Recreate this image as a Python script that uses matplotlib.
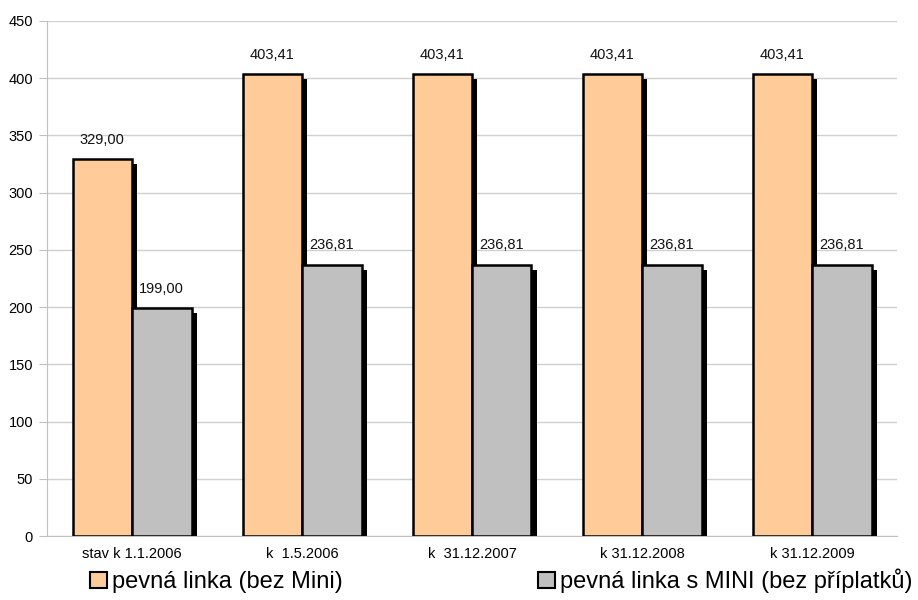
import numpy as np
import matplotlib
matplotlib.use("Agg")
from matplotlib import pyplot as plt
from matplotlib.patches import Patch

plt.rcParams['font.family'] = ['Liberation Sans', 'DejaVu Sans']

categories = ['stav k 1.1.2006', 'k  1.5.2006', 'k  31.12.2007', 'k 31.12.2008', 'k 31.12.2009']
bez_mini = [329.00, 403.41, 403.41, 403.41, 403.41]
s_mini = [199.00, 236.81, 236.81, 236.81, 236.81]
series_names = ['pevná linka (bez Mini)', 'pevná linka s MINI (bez příplatků)']

fig = plt.figure(figsize=(9.18, 6.0), dpi=100)
ax = fig.add_axes([47/918, 1 - 536/600, 850/918, 515/600])

x = np.arange(len(categories))
w = 0.35
ymax = 450
# shadow offset (approx 5 px)
sdx = 5 / 170
sdy = 5 * ymax / 515

for vals, off, col in [(bez_mini, -w / 2, '#FFCC99'), (s_mini, w / 2, '#C0C0C0')]:
    v = np.array(vals)
    ax.bar(x + off + sdx, v - sdy, w, color='black', zorder=2)
    ax.bar(x + off, v, w, color=col, edgecolor='black', linewidth=1.8, zorder=3)
    for xi, vi in zip(x + off, v):
        ax.text(xi, vi + 11, f'{vi:.2f}'.replace('.', ','), ha='center', va='bottom',
                fontsize=10.5, color='#111111', zorder=4)

ax.set_xlim(-0.5, len(categories) - 0.5)
ax.set_ylim(0, ymax)
ax.set_yticks(range(0, 451, 50))
ax.set_xticks(x)
ax.set_xticklabels(categories, fontsize=10.5)
ax.tick_params(axis='x', length=0, pad=8)
ax.tick_params(axis='y', labelsize=10.5, color='#C0C0C0', length=6, pad=4)
ax.yaxis.grid(True, color='#D0D0D0', linewidth=1)
ax.set_axisbelow(True)
for s in ['top', 'right']:
    ax.spines[s].set_visible(False)
ax.spines['left'].set_color('#C0C0C0')
ax.spines['bottom'].set_color('#C0C0C0')

handles = [Patch(facecolor='#FFCC99', edgecolor='black', linewidth=1.5),
           Patch(facecolor='#C0C0C0', edgecolor='black', linewidth=1.5)]
fig.legend(handles, series_names, loc='center', bbox_to_anchor=(0.546, 1 - 581/600),
           ncol=2, frameon=False, fontsize=17, handlelength=0.7, handleheight=0.7,
           handletextpad=0.2, columnspacing=8.3, borderaxespad=0, borderpad=0)

fig.savefig('out.png', dpi=100)
